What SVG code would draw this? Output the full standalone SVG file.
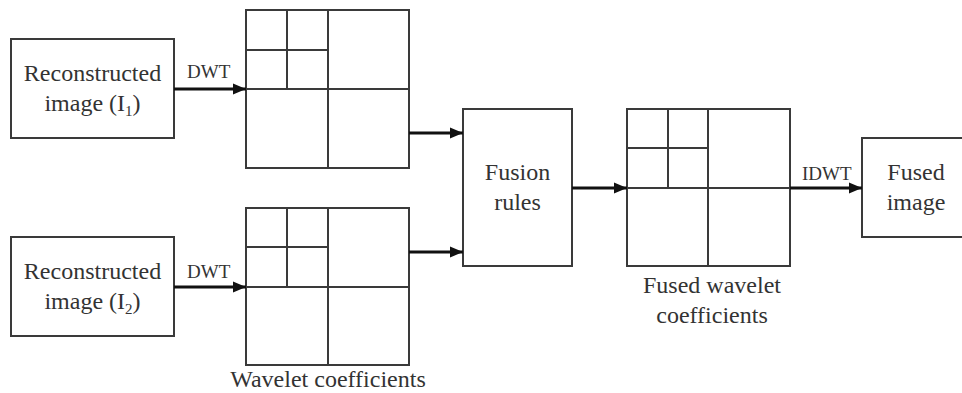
<svg xmlns="http://www.w3.org/2000/svg" width="962" height="393" viewBox="0 0 962 393">
  <style>
    .box { fill: #fff; stroke: #3a3a3a; stroke-width: 2; }
    .grid { fill: none; stroke: #3a3a3a; stroke-width: 2; }
    .lbl { font-family: "Liberation Serif", "Times New Roman", serif; font-size: 24px; fill: #333; text-anchor: middle; }
    .tag { font-family: "Liberation Serif", "Times New Roman", serif; font-size: 19px; fill: #333; }
    .sub { font-size: 15px; }
    .wire { fill: none; stroke: #111; stroke-width: 3; marker-end: url(#head); }
  </style>
  <defs>
    <marker id="head" markerUnits="userSpaceOnUse" markerWidth="14" markerHeight="12" refX="13" refY="6" orient="auto">
      <path d="M0,0.5 L13,6 L0,11.5 Z" fill="#111"/>
    </marker>
  </defs>
  <rect width="962" height="393" fill="#fff"/>

  <g id="input1">
    <rect class="box" x="11" y="39" width="163" height="99"/>
    <text class="lbl" x="92.5" y="81">Reconstructed</text>
    <text class="lbl" x="92.5" y="111">image (I<tspan class="sub" dy="5">1</tspan><tspan dy="-5">)</tspan></text>
  </g>

  <g id="input2">
    <rect class="box" x="11" y="237" width="163" height="99"/>
    <text class="lbl" x="92.5" y="279">Reconstructed</text>
    <text class="lbl" x="92.5" y="309">image (I<tspan class="sub" dy="5">2</tspan><tspan dy="-5">)</tspan></text>
  </g>

  <g id="coeffs1">
    <rect class="grid" x="246" y="10" width="163" height="158"/>
    <path class="grid" d="M328,10 V168 M246,89 H409 M287,10 V89 M246,50 H328"/>
  </g>

  <g id="coeffs2">
    <rect class="grid" x="246" y="208" width="163" height="157"/>
    <path class="grid" d="M328,208 V365 M246,287 H409 M287,208 V287 M246,247 H328"/>
    <text class="lbl" x="328" y="387">Wavelet coefficients</text>
  </g>

  <g id="fusion">
    <rect class="box" x="463" y="109" width="109" height="157"/>
    <text class="lbl" x="517.5" y="180">Fusion</text>
    <text class="lbl" x="517.5" y="210">rules</text>
  </g>

  <g id="fusedCoeffs">
    <rect class="grid" x="627" y="109" width="163" height="157"/>
    <path class="grid" d="M708,109 V266 M627,188 H790 M668,109 V188 M627,148 H708"/>
    <text class="lbl" x="712" y="293">Fused wavelet</text>
    <text class="lbl" x="712" y="323">coefficients</text>
  </g>

  <g id="output">
    <rect class="box" x="862" y="138" width="112" height="99"/>
    <text class="lbl" x="916" y="180">Fused</text>
    <text class="lbl" x="916" y="210">image</text>
  </g>

  <g id="connectors">
    <path class="wire" d="M174,89 H246"/>
    <path class="wire" d="M174,287 H246"/>
    <path class="wire" d="M409,133 H463"/>
    <path class="wire" d="M409,252 H463"/>
    <path class="wire" d="M572,188 H627"/>
    <path class="wire" d="M790,188 H862"/>
    <text class="tag" x="187" y="78">DWT</text>
    <text class="tag" x="187" y="278">DWT</text>
    <text class="tag" x="802" y="180">IDWT</text>
  </g>
</svg>
